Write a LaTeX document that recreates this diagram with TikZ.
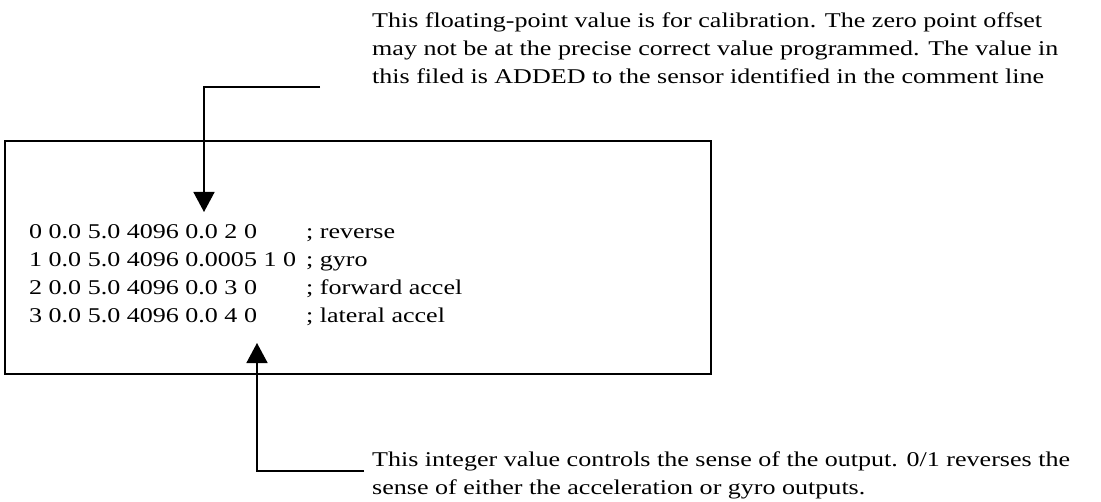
\documentclass[tikz,border=0pt]{standalone}
\usepackage{fontspec}
\setmainfont{Liberation Serif}[FakeStretch=1.24]
\usetikzlibrary{arrows.meta, positioning}
\tikzset{
  frame/.style = {rectangle, draw, line width=1.8bp, minimum width=706bp,
                  minimum height=233bp, inner sep=0pt},
  codeline/.style = {anchor=base west, inner sep=0pt},
  note/.style = {anchor=base west, inner sep=0pt, align=left},
  pointer/.style = {line width=1.6bp, -{Triangle[width=21bp, length=20bp]}}
}

\begin{document}
\begin{tikzpicture}[x=1bp, y=-1bp,
    every node/.style={font=\fontsize{21bp}{28bp}\selectfont}]
\useasboundingbox (0,0) rectangle (1101,502);

% the parameter file
\node[frame] (box) at (358,257.5) {};
\node[codeline] (line0) at (29,239) {0 0.0 5.0 4096 0.0 2 0};
\node[codeline] (line1) at (29,267) {1 0.0 5.0 4096 0.0005 1 0};
\node[codeline] (line2) at (29,295) {2 0.0 5.0 4096 0.0 3 0};
\node[codeline] (line3) at (29,323) {3 0.0 5.0 4096 0.0 4 0};
\node[codeline] (rem0) at (306,239) {; reverse};
\node[codeline] (rem1) at (306,267) {; gyro};
\node[codeline] (rem2) at (306,295) {; forward accel};
\node[codeline] (rem3) at (306,323) {; lateral accel};

% upper note (base = last line)
\node[note] (offsetnote) at (372,84) {This floating-point value is for calibration. The zero point offset\\
may not be at the precise correct value programmed. The value in\\
this filed is ADDED to the sensor identified in the comment line};
\coordinate (offsetend) at (320,87);
\coordinate (offsettip) at (204,212);
\draw[pointer] (offsetend) -| (offsettip);

% lower note
\node[note] (sensenote) at (372,494) {This integer value controls the sense of the output. 0/1 reverses the\\
sense of either the acceleration or gyro outputs.};
\coordinate (senseend) at (364,471);
\coordinate (sensetip) at (257,343);
\draw[pointer] (senseend) -| (sensetip);
\end{tikzpicture}
\end{document}
